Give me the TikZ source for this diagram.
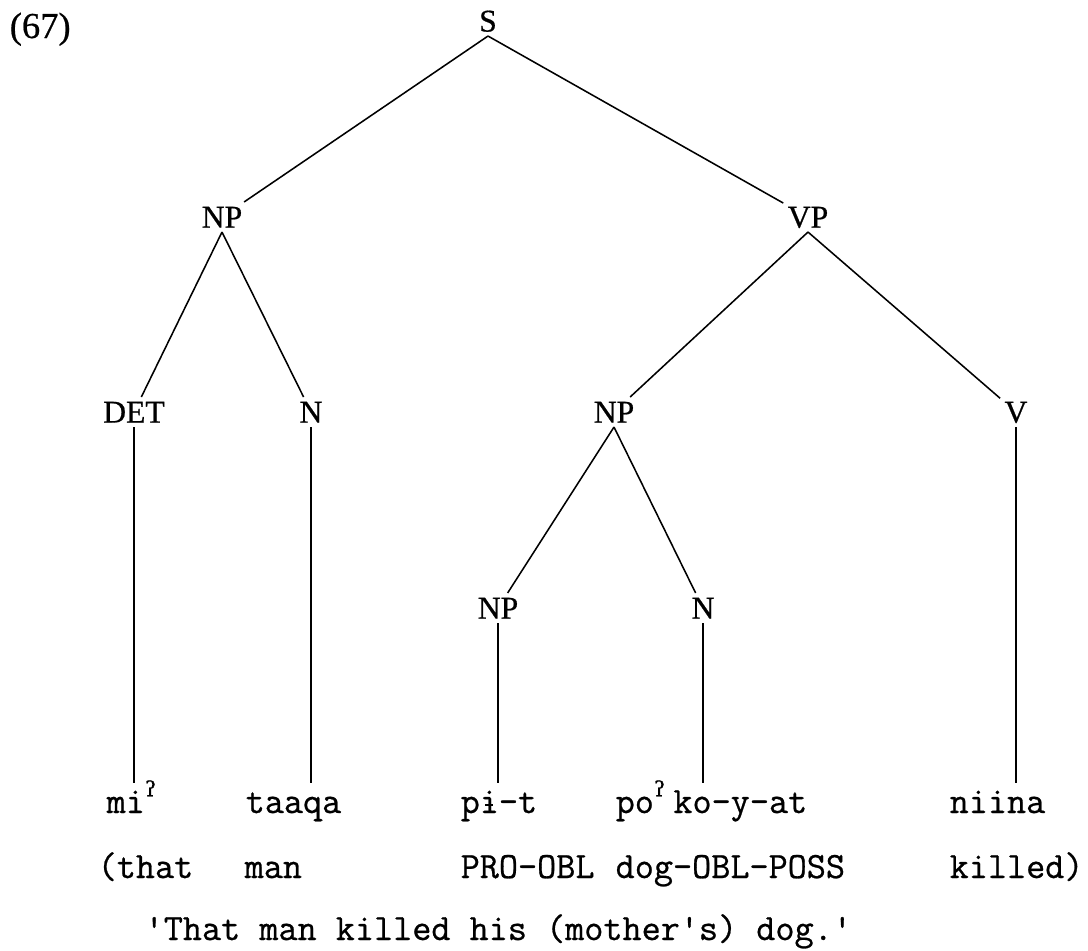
\documentclass[tikz,border=0pt]{standalone}
\usepackage{fontspec}
\setmainfont{Liberation Serif}[FakeBold=0.6]
\setmonofont{Latin Modern Mono}[FakeBold=0.7]
\newfontfamily\ipafont{DejaVu Serif}[FakeBold=0.7]
\newcommand{\glot}{\makebox[0.525em][l]{\raisebox{0.45em}{\ipafont\fontsize{15}{15}\selectfont ʔ}}}
\newcommand{\barredi}{\ooalign{i\cr\hidewidth\rule[0.2em]{0.22em}{0.05em}\hidewidth\cr}}
\begin{document}
\begin{tikzpicture}[
  catnode/.style={font=\fontsize{22.5}{26}\selectfont, inner sep=3pt, text height=15pt, text depth=0pt},
  wordnode/.style={font=\ttfamily\fontsize{26.4}{30}\selectfont, anchor=base west, inner sep=1pt, text height=20pt, text depth=5pt},
  branch/.style={line width=1.1pt}
]
\useasboundingbox (0,0) rectangle (27.2,-23.75);
\node[font=\fontsize{26}{30}\selectfont, anchor=base west] (ex) at (0.12,-0.95) {(67)};
% categories
\node[catnode] (S) at (12.2,-0.525) {S};
\node[catnode] (NP1) at (5.55,-5.425) {NP};
\node[catnode] (VP) at (20.2,-5.425) {VP};
\node[catnode] (DET) at (3.35,-10.3) {DET};
\node[catnode] (N1) at (7.775,-10.3) {N};
\node[catnode] (NP2) at (15.35,-10.3) {NP};
\node[catnode] (V) at (25.4,-10.3) {V};
\node[catnode] (NP3) at (12.45,-15.2) {NP};
\node[catnode] (N2) at (17.575,-15.2) {N};
% words
\node[wordnode] (wmi) at (2.625,-20.325) {mi\glot};
\node[wordnode] (wtaaqa) at (6.1,-20.325) {taaqa};
\node[wordnode] (wpit) at (11.475,-20.325) {p\barredi-t};
\node[wordnode] (wpoko) at (15.35,-20.325) {po\glot ko-y-at};
\node[wordnode] (wniina) at (23.7,-20.325) {niina};
% glosses
\node[wordnode] (gthat) at (2.4,-21.95) {(that};
\node[wordnode] (gman) at (6.075,-21.95) {man};
\node[wordnode] (gpro) at (11.475,-21.95) {PRO-OBL};
\node[wordnode] (gdog) at (15.35,-21.95) {dog-OBL-POSS};
\node[wordnode] (gkilled) at (23.7,-21.95) {killed)};
\node[wordnode] (transl) at (3.575,-23.5) {'That man killed his (mother's) dog.'};
% branches
\draw[branch] (S.south) -- (NP1);
\draw[branch] (S.south) -- (VP);
\draw[branch] (NP1.south) -- (DET);
\draw[branch] (NP1.south) -- (N1);
\draw[branch] (VP.south) -- (NP2);
\draw[branch] (VP.south) -- (V);
\draw[branch] (NP2.south) -- (NP3);
\draw[branch] (NP2.south) -- (N2);
\draw[branch] (DET.south) -- (DET.south |- wmi.north);
\draw[branch] (N1.south) -- (N1.south |- wtaaqa.north);
\draw[branch] (NP3.south) -- (NP3.south |- wpit.north);
\draw[branch] (N2.south) -- (N2.south |- wpoko.north);
\draw[branch] (V.south) -- (V.south |- wniina.north);
\end{tikzpicture}
\end{document}
